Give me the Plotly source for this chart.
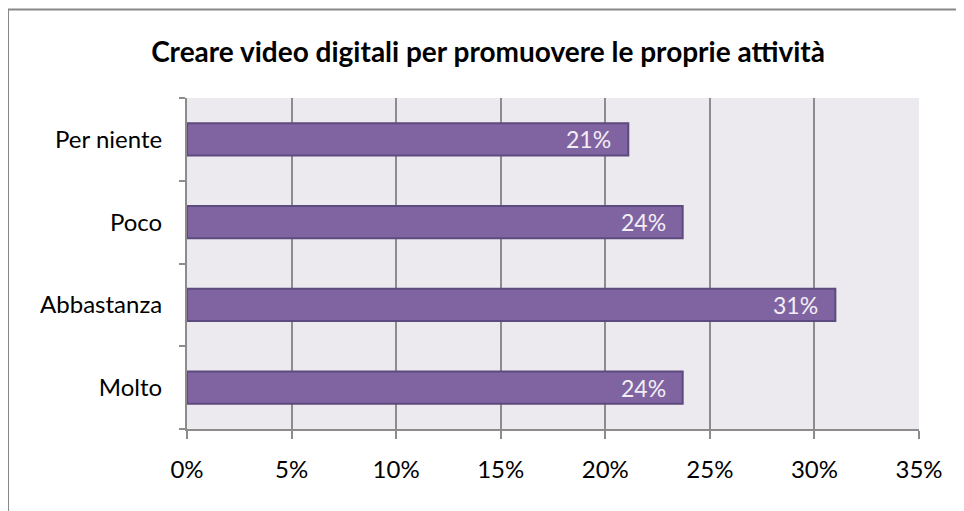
import plotly.graph_objects as go

categories = ["Per niente", "Poco", "Abbastanza", "Molto"]
values = [21.1, 23.7, 31.0, 23.7]
x_ticks = [0, 5, 10, 15, 20, 25, 30, 35]
x_tick_labels = ["0%", "5%", "10%", "15%", "20%", "25%", "30%", "35%"]

FONT = "Lato"

fig = go.Figure()

fig.add_trace(go.Bar(
    x=values, y=categories, orientation="h",
    marker=dict(color="#8064A2", line=dict(color="#5D4A7E", width=2)),
    width=0.39,
    hoverinfo="skip",
))

for cat, v in zip(categories, values):
    fig.add_annotation(
        x=v, y=cat, text=f"{round(v)}%", showarrow=False,
        xanchor="right", xshift=-15,
        font=dict(family=FONT, size=23, color="#F3EEF4"),
    )

# outer chart border
fig.add_shape(
    type="rect", xref="paper", yref="paper",
    x0=-0.2445, x1=1.08, y0=-0.3, y1=1.2674,
    line=dict(color="#888888", width=2), fillcolor="rgba(0,0,0,0)",
    layer="below",
)

fig.update_layout(
    width=964, height=511,
    paper_bgcolor="white",
    plot_bgcolor="#ECEAEF",
    showlegend=False,
    title=dict(
        text="<b>Creare video digitali per promuovere le proprie attività</b>",
        x=0.498, xanchor="center", xref="container",
        y=0.914, yanchor="middle",
        font=dict(family=FONT, size=28, color="black"),
    ),
    font=dict(family=FONT, size=24, color="black"),
    margin=dict(l=179, r=53, t=90, b=90),
    xaxis=dict(
        range=[0, 35], tickvals=x_ticks, ticktext=x_tick_labels,
        showgrid=True, gridcolor="#8C8C8C", gridwidth=2,
        showline=True, linecolor="#8C8C8C", linewidth=2,
        ticks="outside", ticklen=8, tickwidth=2, tickcolor="#8C8C8C",
        ticklabelstandoff=10,
        zeroline=False, fixedrange=True,
    ),
    yaxis=dict(
        categoryorder="array", categoryarray=categories[::-1],
        showgrid=False, tickson="boundaries",
        showline=True, linecolor="#8C8C8C", linewidth=2,
        ticks="outside", ticklen=6, tickwidth=2, tickcolor="#8C8C8C",
        ticklabelstandoff=18, fixedrange=True,
    ),
)

fig.write_html("out.html")
